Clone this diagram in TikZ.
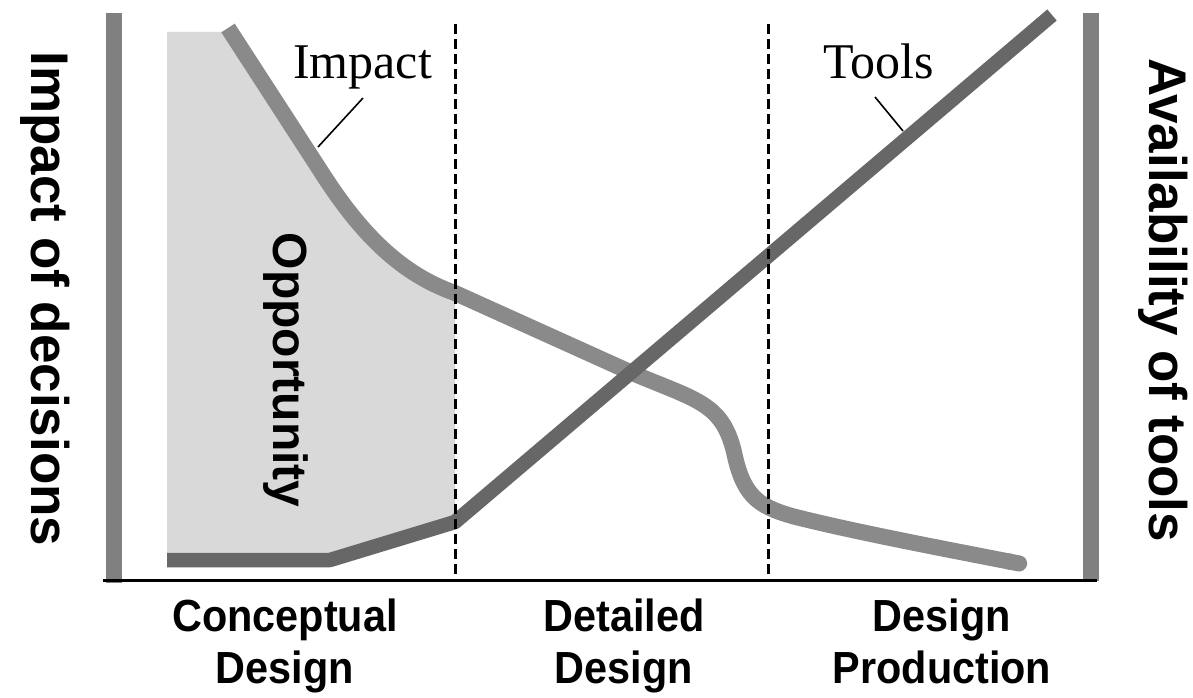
\documentclass[tikz,border=0pt]{standalone}
\usepackage{fontspec}
\setmainfont{Liberation Serif}
\setsansfont{Liberation Sans}
\usetikzlibrary{arrows.meta}
\definecolor{barg}{HTML}{808080}
\definecolor{impg}{HTML}{8A8A8A}
\definecolor{toolg}{HTML}{676767}
\definecolor{fillg}{HTML}{D9D9D9}
\begin{document}
\begin{tikzpicture}[x=1pt,y=-1pt,
  bar/.style={draw=barg, line width=16pt},
  impactcurve/.style={draw=impg, line width=16pt, line join=round},
  toolscurve/.style={draw=toolg, line width=14.5pt, line join=round},
  divider/.style={draw=black, line width=3pt, dash pattern=on 10pt off 5pt},
  axisline/.style={draw=black, line width=3pt},
  leader/.style={draw=black, line width=1.6pt},
  curvelabel/.style={font=\fontsize{50}{60}\selectfont, inner sep=0pt, anchor=base west},
  sidelabel/.style={font=\sffamily\bfseries\fontsize{53}{60}\selectfont, rotate=-90, inner sep=0pt},
  opplabel/.style={font=\sffamily\bfseries\fontsize{48}{55}\selectfont, rotate=-90, inner sep=0pt},
  phaselabel/.style={font=\sffamily\bfseries\fontsize{45}{52}\selectfont, align=center, inner sep=0pt, anchor=north, xscale=0.92}]

\useasboundingbox[fill=white] (0,0) rectangle (1193,698);

% opportunity area
\fill[fillg] (167,32) -- (230,32) -- (320,170) .. controls (355,225) and (395,272) .. (455,293)
  -- (455,522) -- (330,560) -- (167,560) -- cycle;

% side bars and axis
\coordinate (lbtop) at (114,13);
\coordinate (lbbot) at (114,583);
\coordinate (rbtop) at (1091,13);
\coordinate (rbbot) at (1091,581);
\coordinate (axl) at (103,580);
\coordinate (axr) at (1097,580);
\draw[bar] (lbtop) -- (lbbot);
\draw[bar] (rbtop) -- (rbbot);
\draw[axisline] (axl) -- (axr);

% impact curve
\coordinate (impstart) at (228,28);
\coordinate (impend) at (1027,565);
\draw[impactcurve, -{Round Cap[]}] (impstart) -- (320,170) .. controls (355,225) and (395,272) .. (455,293)
  -- (630,372) .. controls (695,400) and (722,402) .. (734,452)
  .. controls (743,495) and (757,506) .. (792,516)
  .. controls (850,531) and (950,550) .. (impend);

% tools curve
\coordinate (toolstart) at (167,560);
\coordinate (toolend) at (1052,15);
\draw[toolscurve] (toolstart) -- (330,560) -- (455,522) -- (toolend);

% phase dividers
\coordinate (d1top) at (455,24);
\coordinate (d1bot) at (455,580);
\coordinate (d2top) at (768,24);
\coordinate (d2bot) at (768,580);
\draw[divider] (d1top) -- (d1bot);
\draw[divider] (d2top) -- (d2bot);

% curve labels
\node[curvelabel] (impactlbl) at (293,79) {Impact};
\node[curvelabel] (toolslbl) at (823,79) {Tools};
\coordinate (impacttick) at (363,98);
\coordinate (impactfoot) at (318,147);
\coordinate (toolstick) at (875,97);
\coordinate (toolsfoot) at (903,131);
\draw[leader] (impacttick) -- (impactfoot);
\draw[leader] (toolstick) -- (toolsfoot);

% axis labels
\node[sidelabel] (leftlbl) at (45,299) {Impact of decisions};
\node[sidelabel] (rightlbl) at (1163,300) {Availability of tools};
\node[opplabel] (opp) at (286,370) {Opportunity};

% phase labels
\node[phaselabel] (concept) at (285,599) {Conceptual\\Design};
\node[phaselabel] (detail) at (624,599) {Detailed\\Design};
\node[phaselabel] (prod) at (942,599) {Design\\Production};
\end{tikzpicture}
\end{document}
